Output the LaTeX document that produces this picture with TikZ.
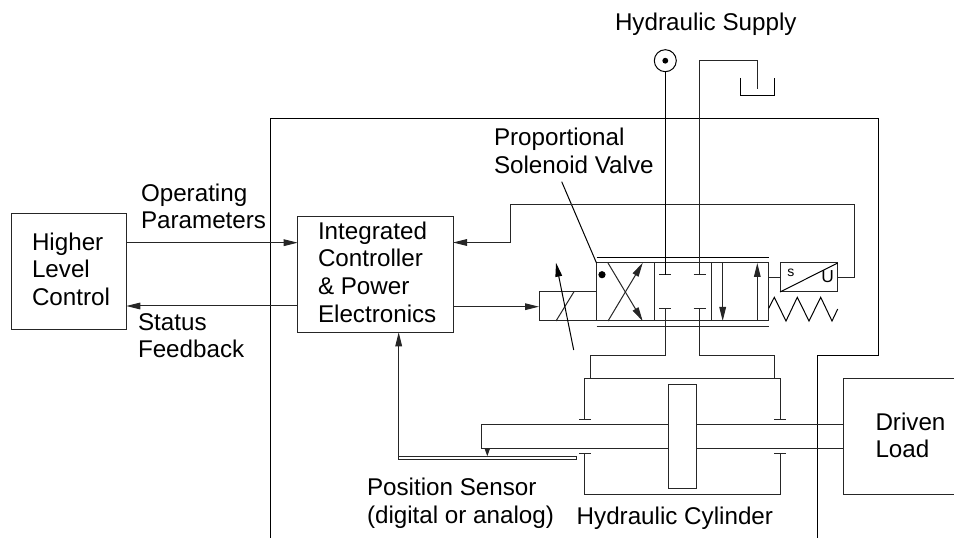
\documentclass[tikz,border=0pt]{standalone}
\usepackage{fontspec}
\setmainfont{Liberation Sans}
\usetikzlibrary{arrows.meta}
\newcommand{\bigtxt}{\fontsize{18.15pt}{20.8pt}\selectfont}
\tikzset{
  x=0.75pt,y=-0.75pt,
  wire/.style={draw=black!85,line width=0.75pt,line join=miter},
  flow/.style={wire,-{Triangle[length=10.5pt,width=5pt]}},
  small flow/.style={wire,-{Triangle[length=6pt,width=4pt]}},
  boxn/.style={draw=black!85,line width=0.75pt,rectangle,inner sep=0pt,outer sep=0pt,align=left},
  txt/.style={anchor=base west,inner sep=0pt,outer sep=0pt,font=\bigtxt,align=left,text=black},
}
\newcommand{\boxat}[6][]{\node[boxn,#1,minimum width={(#4-#2)*0.75pt},minimum height={(#5-#3)*0.75pt}] (#6) at ({(#2+#4)/2},{(#3+#5)/2})}
\begin{document}
\begin{tikzpicture}
\useasboundingbox (0,0) rectangle (954,538);
% outer housing
\coordinate (h1) at (270,538); \coordinate (h2) at (270,118.3); \coordinate (h3) at (878,118.3);
\coordinate (h4) at (878,355.3); \coordinate (h5) at (817.3,355.3); \coordinate (h6) at (817.3,538);
\draw[wire,draw=black] (h1)--(h2)--(h3)--(h4)--(h5)--(h6);
% blocks
\boxat{11}{213.7}{126.3}{329.7}{higher} {};
\node[txt] (highertxt) at (32,305.7) {Higher\\Level\\Control};
\boxat{297.7}{217}{453}{332.3}{ctrl} {};
\node[txt] (ctrltxt) at (318,322.3) {Integrated\\Controller\\\& Power\\Electronics};
% signal connectors
\coordinate (opA) at (126.3,242.7); \coordinate (opB) at (297.7,242.7);
\coordinate (stA) at (297.7,306); \coordinate (stB) at (126.3,306);
\draw[flow] (opA)--(opB);
\draw[flow] (stA)--(stB);
\node[txt] (optxt) at (141,229) {Operating\\Parameters};
\node[txt] (sttxt) at (138,358) {Status\\Feedback};
% valve
\boxat{596.5}{263}{654.3}{321}{v1} {};
\boxat{654.3}{263}{711.3}{321}{v2} {};
\boxat{711.3}{263}{768.7}{321}{v3} {};
\boxat{539}{291.7}{596.5}{321}{act} {};
\draw[wire,draw=black] (596.5,257.3)--(768.7,257.3);
\draw[wire] (596.5,326.7)--(768.7,326.7);
\fill[black] (602,274.7) circle[radius=2.7pt];
\coordinate (x1a) at (608,263); \coordinate (x1b) at (642.7,321);
\coordinate (x2a) at (608,321); \coordinate (x2b) at (642.7,263);
\draw[flow] (x1a)--(x1b);
\draw[flow] (x2a)--(x2b);
\coordinate (d1) at (722.7,263); \coordinate (d2) at (722.7,321);
\coordinate (u1) at (757.3,321); \coordinate (u2) at (757.3,263);
\draw[flow] (d1)--(d2);
\draw[flow] (u1)--(u2);
% solenoid
\draw[wire] (556,321)--(574,291.7);
\coordinate (varA) at (573.7,350); \coordinate (varB) at (556,262.7);
\draw[flow,draw=black] (varA)--(varB);
\coordinate (ctlOut) at (453,306.7); \coordinate (actIn) at (539,306.7);
\draw[flow] (ctlOut)--(actIn);
% leader
\coordinate (ld1) at (561.7,181.7); \coordinate (ld2) at (596.5,263);
\draw[wire,draw=black] (ld1)--(ld2);
\node[txt] (proptxt) at (494,173.5) {Proportional\\Solenoid Valve};
% feedback transducer
\boxat{780}{263}{837.7}{292}{lvdt} {};
\draw[wire,draw=black] (lvdt.south west)--(lvdt.north east);
\node[anchor=base west,inner sep=0pt,font=\fontsize{10.5pt}{12pt}\selectfont] (stxt) at (787,277) {s};
\node[anchor=base west,inner sep=0pt,font=\fontsize{13pt}{15pt}\selectfont] (utxt) at (821,282.7) {U};
\draw[wire] (768.7,277.3)--(780,277.3);
\coordinate (f1) at (837.7,277.3); \coordinate (f2) at (854.7,277.3); \coordinate (f3) at (854.7,205);
\coordinate (f4) at (510,205); \coordinate (f5) at (510,242.5); \coordinate (f6) at (453,242.5);
\draw[flow] (f1)--(f2)--(f3)--(f4)--(f5)--(f6);
% spring
\draw[wire,draw=black] (768.7,308.3)--(774.3,297.3)--(786,321)--(797.3,297.3)--(809,321)--(820.7,297.3)--(832,321)--(837.7,309);
% ports
\draw[wire] (659.3,274.7)--(671.3,274.7);
\draw[wire] (693.7,274.7)--(705.7,274.7);
\draw[wire] (659.3,309)--(671.3,309);
\draw[wire] (693.7,309)--(705.7,309);
% supply
\node[draw=black,line width=0.75pt,circle,minimum size=16.5pt,inner sep=0pt] (sup) at (665.3,60.7) {};
\fill[black] (sup.center) circle[radius=2.2pt];
\node[txt] (suptxt) at (615,31) {Hydraulic Supply};
\coordinate (supEnd) at (665.3,274.7);
\draw[wire,draw=black] (sup.south)--(supEnd);
% return and tank
\draw[wire] (699.7,274.7)--(699.7,60.7)--(757,60.7)--(757,89.3);
\draw[wire,draw=black] (740,78)--(740,95.3)--(774.3,95.3)--(774.3,78);
% lines to cylinder
\draw[wire] (665.3,309)--(665.3,355.3)--(590.7,355.3)--(590.7,378.3);
\draw[wire] (699.7,309)--(699.7,355.3)--(774.7,355.3)--(774.7,378.3);
% cylinder
\draw[wire] (579,419.3)--(591,419.3);
\draw[wire] (774.3,419.3)--(786.3,419.3);
\draw[wire] (584.7,419.3)--(584.7,378.3)--(780.3,378.3)--(780.3,419.3);
\draw[wire] (579,454)--(591,454);
\draw[wire] (774.3,454)--(786.3,454);
\draw[wire] (584.7,454)--(584.7,494.3)--(780.3,494.3)--(780.3,454);
% rod
\draw[wire] (668.3,425)--(481.7,425)--(481.7,448.3)--(668.3,448.3);
\draw[wire] (696.7,425)--(843.3,425);
\draw[wire] (696.7,448.3)--(843.3,448.3);
\boxat{668.3}{384.3}{696.7}{488.3}{piston} {};
\node[txt] (cyltxt) at (576.7,524) {Hydraulic Cylinder};
% position sensor
\boxat{398.7}{456.3}{576.7}{459.7}{bar} {};
\coordinate (wiper) at (487.3,448.3); \coordinate (wiperEnd) at (487.3,456.3);
\draw[small flow] (wiper)--(wiperEnd);
\coordinate (barUp) at (398.7,456.3); \coordinate (ctlIn) at (398.7,332.3);
\draw[flow] (barUp)--(ctlIn);
\node[txt] (postxt) at (367,523) {Position Sensor\\(digital or analog)};
% driven load
\draw[wire] (954,378.3)--(843.3,378.3)--(843.3,494.3)--(954,494.3);
\node[txt] (loadtxt) at (875.5,458) {Driven\\Load};
\end{tikzpicture}
\end{document}
